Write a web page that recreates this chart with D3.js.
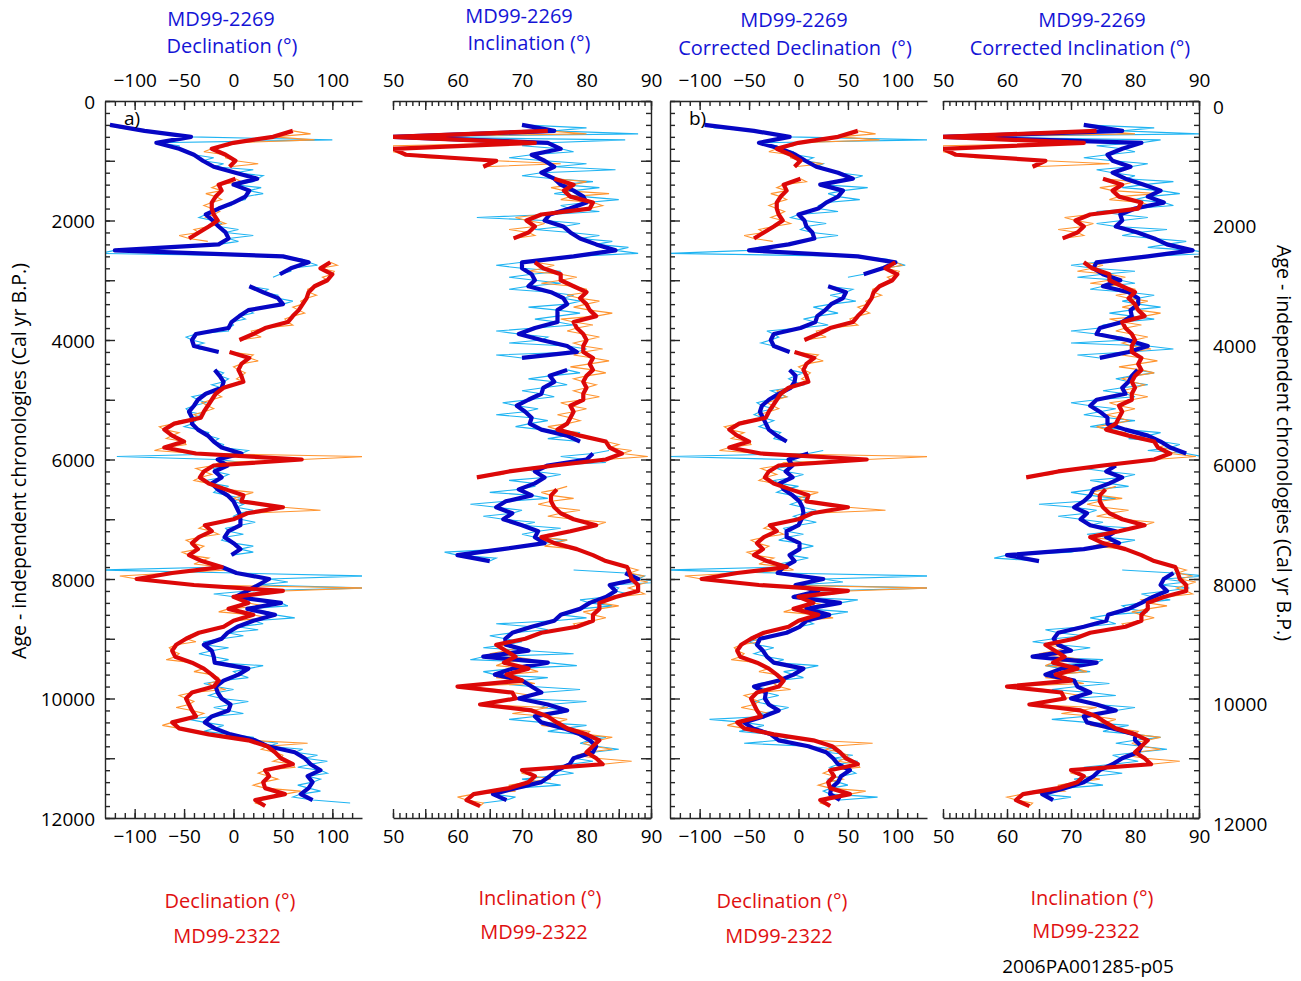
<!DOCTYPE html>
<html>
<head>
<meta charset="utf-8">
<script src="https://cdn.jsdelivr.net/npm/d3@7"></script>
<style>
body { margin: 0; background: #fff; }
svg text { font-family: "Open Sans", sans-serif; }
</style>
</head>
<body>
<svg id="chart" width="1301" height="981"></svg>
<script>

/*
 * Data.
 * Smoothed curves are sampled every 100 yr, the raw (thin) curves add
 * the readings that fall between two smoothed samples.
 */
var ages = [
    400, 500, 600, 700, 800, 900, 1000, 1100, 1200, 1300,
    1400, 1500, 1600, 1700, 1800, 1900, 2000, 2100, 2200, 2300,
    2400, 2500, 2600, 2700, 2800, 2900, 3000, 3100, 3200, 3300,
    3400, 3500, 3600, 3700, 3800, 3900, 4000, 4100, 4200, 4300,
    4400, 4500, 4600, 4700, 4800, 4900, 5000, 5100, 5200, 5300,
    5400, 5500, 5600, 5700, 5800, 5900, 6000, 6100, 6200, 6300,
    6400, 6500, 6600, 6700, 6800, 6900, 7000, 7100, 7200, 7300,
    7400, 7500, 7600, 7700, 7800, 7900, 8000, 8100, 8200, 8300,
    8400, 8500, 8600, 8700, 8800, 8900, 9000, 9100, 9200, 9300,
    9400, 9500, 9600, 9700, 9800, 9900, 10000, 10100, 10200, 10300,
    10400, 10500, 10600, 10700, 10800, 10900, 11000, 11100, 11200, 11300,
    11400, 11500, 11600, 11700, 11800
];

var rawAges = [
    450, 550, 650, 750, 850, 950, 1050, 1150, 1250, 1350,
    1450, 1550, 1650, 1750, 1850, 1950, 2050, 2150, 2250, 2350,
    2450, 2550, 2650, 2750, 2850, 2950, 3050, 3150, 3250, 3350,
    3450, 3550, 3650, 3750, 3850, 3950, 4050, 4150, 4250, 4350,
    4450, 4550, 4650, 4750, 4850, 4950, 5050, 5150, 5250, 5350,
    5450, 5550, 5650, 5750, 5850, 5950, 6050, 6150, 6250, 6350,
    6450, 6550, 6650, 6750, 6850, 6950, 7050, 7150, 7250, 7350,
    7450, 7550, 7650, 7750, 7850, 7950, 8050, 8150, 8250, 8350,
    8450, 8550, 8650, 8750, 8850, 8950, 9050, 9150, 9250, 9350,
    9450, 9550, 9650, 9750, 9850, 9950, 10050, 10150, 10250, 10350,
    10450, 10550, 10650, 10750, 10850, 10950, 11050, 11150, 11250, 11350,
    11450, 11550, 11650, 11750
];

// MD99-2269 declination
var decBlue = [
    -125, -90, -43, -78, -55, -40, -31, -20, 2, 24,
    0, 16, 12, 0, -15, -28, -21, -15, -8, -5,
    -15, -120, 50, 76, 58, 47, null, 16, 30, 45,
    50, 15, 6, -2, -5, -38, -42, -40, -15, null,
    null, -19, -14, -10, -12, -28, -36, -40, -45, -42,
    -42, -36, -26, -20, -12, 8, -16, -6, -19, -12,
    -22, -16, -6, 0, 3, 6, 7, 7, -5, -9,
    0, 7, -2, null, -12, 3, 36, 25, 14, 2,
    48, 14, 42, 20, 4, -6, -12, -30, -22, -20,
    -19, 15, 5, -10, -18, -16, -12, -3, -5, -22,
    -29, -19, -3, 22, 35, 62, 72, 78, 88, 75,
    80, 76, 68, 80, null
];
var decBlueRaw = [
    -115, -70, 100, -55, -50, -20, -10, 20, 30, 20,
    28, 30, 12, -2, -20, -35, -12, 5, 20, 5,
    -60, -135, 70, 85, 58, 40, null, 35, 45, 60,
    35, 20, 12, 0, -5, -48, -30, -35, null, null,
    null, -10, -5, -22, -18, -42, -28, -48, -30, -38,
    -50, -25, -15, -10, 15, -118, 10, -20, -5, -28,
    -5, -20, 8, 10, 20, 0, 22, -8, 10, -12,
    20, 20, null, null, -135, 135, 55, 135, -20, 30,
    55, 35, 62, 30, 25, 10, -30, -5, -35, -5,
    30, 0, 15, -30, 0, -25, 15, -20, 10, -45,
    -10, -30, 20, 45, 70, 85, 95, 65, 95, 88,
    65, 88, 60, 118
];

// MD99-2322 declination
var decRed = [
    null, 60, 40, 0, -22, -8, 2, -4, null, 2,
    -15, -12, -18, -22, -22, -20, -16, -25, -35, -45,
    null, null, null, 98, 88, 100, 95, 82, 76, 74,
    70, 66, 60, 55, 32, 20, 6, null, -4, 16,
    8, 5, 8, 10, -10, -18, -22, -26, -30, -33,
    -60, -70, -62, -50, -70, -38, 69, -20, -30, -34,
    -25, -8, 10, 8, 50, 14, 0, -29, -22, -35,
    -42, -36, -45, -32, -12, -62, -98, -40, 50, 0,
    15, -5, 20, 0, -10, -35, -48, -58, -62, -59,
    -42, -30, -22, -15, -20, -42, -48, -45, -42, -38,
    -62, -55, -25, 15, 34, 42, 48, 60, 32, 36,
    30, 32, 52, 22, 32
];
var decRedRaw = [
    null, 78, 82, -5, -30, -8, 25, null, null, 8,
    -22, -28, -12, -30, -14, -28, -8, -40, -55, -26,
    null, null, null, 105, 102, 90, 88, 75, 84, 68,
    60, 72, 52, 60, 18, 28, null, null, 20, 25,
    0, 12, 3, -5, -22, -12, -32, -20, -40, -55,
    -75, -55, -68, -48, -80, 135, -15, -38, -22, -40,
    -12, 20, 0, 30, 88, 5, -10, -35, -15, -48,
    -30, -52, -25, -40, -5, -115, -75, 135, 35, 8,
    30, -15, 35, -8, -25, -45, -38, -65, -55, -68,
    -35, -40, -15, -25, -8, -55, -40, -58, -30, -50,
    -72, -40, -5, 75, 28, 50, 40, 62, 25, 45,
    20, 68, 30, 22
];

// MD99-2269 inclination
var incBlue = [
    70, 75, 50, 74, 76, 71.5, 73.5, 75, 73, 75,
    76, 78, 79.5, 80, 77.4, 74.3, 73.5, 76.4, 77.5, 79,
    81.5, 84.5, 78, 70, 70, 71.5, 72, 71, 74.5, 76.4,
    77, 75.5, 75.5, 75.5, 72, 69.5, 73, 77, 78.5, 70,
    null, 77, 74.3, 75, 73.3, 73, 71, 69.2, 70.5, 71.5,
    71.2, 73, 77, 79, null, 81, 80, 74, 72, 73.5,
    72, 69.5, 71.5, 67.5, 66, 68.5, 67.1, 70, 72.5, 72,
    73.5, 67, 60, 65, null, 86, 88, 83.6, 84.5, 83,
    80.5, 79, 76, 75, 71.5, 68.5, 67.4, 67.5, 71, 64,
    74, 68.5, 65.8, 70, 71.5, 73, 69.5, 74, 77, 72,
    73, 76.5, 79, 80.5, 81.5, 81, 78, 77.4, 75.5, 74.3,
    73, 69, 65.5, 67.6, null
];
var incBlueRaw = [
    80, 88, 86, 70, 78, 68, 80, 84.5, 70, 81,
    82, 75, 85, 76, 82, 63, 79, 72, 82, 84,
    86.5, 88, 75, 66, 76, 68, 76, 68, 78, 79,
    71, 79, 72, 78, 66, 74, 68, 80, 66, null,
    null, 79, 71, 77, 70, 75, 67, 72.5, 66, 74,
    69, 79, 74, null, 83.5, 76, 83, 70, 76, 68,
    72, 65, 74, 62, 70, 64, 72, 76, 70, 77,
    70, 58, 66, null, 78, 89, 92, 85, 86.5, 79,
    84, 77, 80, 66, 74, 65, 70, 64, 78, 62,
    78.5, 64, 74, 66.5, 79, 71, 80, 73, 76, 68,
    80, 74, 83, 79, 85, 78.5, 81, 74, 78, 70,
    76, 66, 69, 64
];

// MD99-2322 inclination
var incRed = [
    null, 74, 50, 72, 50, 52, 66, 64, null, 75,
    78, 76.5, 77.5, 81, 80.5, 73, 70.7, 72, 71, 68.7,
    null, null, null, 72, 73.3, 76, 76, 78, 80, 79,
    80, 80.5, 81.5, 78, 78.5, 79.5, 80, 79.5, 79.5, 81,
    80.5, 81, 80, 79.5, 80, 79.5, 79.5, 77.5, 78, 77.5,
    77, 75.5, 79, 83, 83.6, 85.5, 83, 75, 68, 63,
    null, 75.4, 74.5, 74.5, 75, 76, 78, 81.5, 77.5, 73,
    75, 78.5, 81, 83, 86.3, 86.7, 87, 88, 88, 84.5,
    82, 82, 81, 81, 78.5, 73, 70.5, 66, 67.5, 69,
    67.2, 71, 67.6, 70, 60, 68.5, 69, 63.5, 71.5, 74,
    75.4, 77, 80, 82, 81, 80, 81.5, 82.5, 70, 72,
    71, 68, 62.5, 61.4, 63.5
];
var incRedRaw = [
    null, 80, 68, 50, 50, 55, 76, null, null, 80,
    74.5, 83.5, 76, 82.5, 75, 69, 73.5, 68, 72, null,
    null, null, null, 75, 71, 78.5, 73, 80, 77, 82,
    78, 84, 76, 81, 77, 82, 78, 82.5, 78, 83.5,
    77.5, 83, 78, 81.5, 78, 82, 76, 80, 75.5, 79,
    74, 78.5, 80, 85, 87, 89.5, 79, 71.5, 67, null,
    77, 73, 78, 72.5, 79, 74, 83, 80, 74, 77,
    73.5, 80, 82.5, 85, 88, 89, 89.5, 86.5, 89, 81,
    85, 79.5, 83, 78, 76, 71.5, 68, 69.5, 65, 71.5,
    66, 72.5, 66, 72, 66, 71.5, 66.5, 74, 68.5, 77,
    73, 80.5, 84, 79.5, 84, 78.5, 87, 75, 70, 74.5,
    68, 69, 60, 64
];

// MD99-2269 corrected declination
var decBlueCorr = [
    -95, -45, -9, -40, -18, -3, 7, 18, 40, 55,
    22, 45, 40, 28, 20, 0, 6, 8, 14, 16,
    -10, -50, 60, 98, 85, 66, null, 30, 48, 45,
    33, 27, 19, 17, 2, -25, -28, -25, -9, null,
    null, -9, -3, -4, -8, -20, -30, -37, -39, -36,
    -33, -30, -22, -12, null, 10, -10, -6, -13, -6,
    -19, -15, -6, 1, 4, 5, 3, 0, -12, -12,
    1, 1, -9, -4, -15, -21, 25, -3, 20, -5,
    42, 8, 31, 8, 1, -12, -39, -42, -36, -32,
    -25, 5, -5, -20, -45, -33, -34, -30, -20, -35,
    -55, -46, -28, -20, 10, 28, 35, 40, 52, 43,
    40, 33, 32, 42, null
];
var decBlueCorrRaw = [
    -85, -30, 130, -22, -5, 15, 25, 30, 65, 40,
    70, 30, 62, 20, 40, -8, 28, 2, 40, 5,
    -40, -130, 90, 108, 78, 50, null, 55, 32, 58,
    15, 40, 5, 30, -32, -20, -38, -15, null, null,
    null, 5, -10, 5, -28, -12, -42, -25, -45, -25,
    -40, -18, -25, null, 25, -132, 5, -22, 5, -25,
    0, -22, 10, -8, 18, -5, 18, -15, 5, -20,
    15, -5, 10, -20, -135, 135, 45, 135, 10, 60,
    15, 50, 20, 15, -5, -25, -50, -25, -45, -15,
    20, -15, 5, -40, -28, -20, -45, -10, -38, -90,
    -35, -60, -5, -55, 40, 55, 60, 32, 58, 30,
    50, 25, 80, null
];

// MD99-2269 corrected inclination
var incBlueCorr = [
    72, 78, 50, 81, 78, 75.7, 76.5, 79.3, 76.5, 78.5,
    81.4, 84, 82, 84.5, 80, 77.7, 78, 77, 80.4, 83,
    85, 89, 82, 74, 73.5, 75, 77.7, 75, 79, 80.5,
    80.5, 79.3, 79.5, 78, 74.5, 74, 78.8, 82, 79, 74.5,
    null, 80.4, 79.5, 79, 78, 78.5, 74, 73, 74.5, 75.7,
    75.7, 78.5, 82, 84, 85.5, 88, null, 77, 75.5, 78,
    76, 73.5, 73, 72, 70.5, 72.5, 71.5, 73, 77, 75.5,
    77.5, 72, 60, 65, null, 86, 84.5, 84, 85, 82.8,
    81, 79, 75.8, 75.5, 72, 68, 67.3, 68, 70, 64,
    74, 68.5, 66, 70.5, 71, 73, 70, 74, 77, 72,
    72.5, 76.5, 80, 80, 81, 80.5, 78, 76.5, 74.5, 73.5,
    72, 69, 65.5, 67.2, null
];
var incBlueCorrRaw = [
    83, 90, 84, 74, 80, 72, 82, 74, 80, 86,
    78, 87, 80, 86, 74, 82, 74, 85, 78, 88,
    82, 92, 78, 70, 80, 71, 80, 73, 83, 78,
    84, 76, 83, 75, 70, 78, 70, 86, 71, null,
    null, 83, 77, 82, 75, 80, 70, 77, 72, 80,
    73, 84, 79, 87, 82, 90.5, null, 72, 80, 73,
    79, 70, 77, 65, 74, 68, 75, 80, 72.5, 80,
    74, 70, 58, null, 78, 91, 88, 88.5, 81, 85.5,
    78, 82, 73, 77, 66, 72, 64, 73, 66, 75,
    66, 73, 69, 76, 67, 77, 72, 80, 74, 67,
    79, 75, 84, 77, 85, 76.5, 80.5, 72, 78, 70.5,
    75, 64, 70, null
];

// tick labels
var decTickLabels = [-100, -50, 0, 50, 100];
var incTickLabels = [50, 60, 70, 80, 90];
var ageTickLabels = [0, 2000, 4000, 6000, 8000, 10000, 12000];

/*
 * Layout of the four panels.
 */
var BLUE_TEXT = "#1414d6";
var RED_TEXT = "#e01010";

var panels = [
    {x0: 105, x1: 362, kind: "dec", blue: decBlue, blueRaw: decBlueRaw,
     red: decRed, redRaw: decRedRaw, yside: "left", ylabels: true, tag: "a)",
     top: [["MD99-2269", 221, 26], ["Declination (°)", 232, 53]],
     bottom: [["Declination (°)", 230, 908], ["MD99-2322", 227, 943]]},
    {x0: 393, x1: 651, kind: "inc", blue: incBlue, blueRaw: incBlueRaw,
     red: incRed, redRaw: incRedRaw, yside: "right", ylabels: false,
     top: [["MD99-2269", 519, 23], ["Inclination (°)", 529, 50]],
     bottom: [["Inclination (°)", 540, 905], ["MD99-2322", 534, 939]]},
    {x0: 670, x1: 927, kind: "dec", blue: decBlueCorr, blueRaw: decBlueCorrRaw,
     red: decRed, redRaw: decRedRaw, yside: "left", ylabels: false, tag: "b)",
     top: [["MD99-2269", 794, 27], ["Corrected Declination  (°)", 795, 55]],
     bottom: [["Declination (°)", 782, 908], ["MD99-2322", 779, 943]]},
    {x0: 943, x1: 1199, kind: "inc", blue: incBlueCorr, blueRaw: incBlueCorrRaw,
     red: incRed, redRaw: incRedRaw, yside: "right", ylabels: true,
     top: [["MD99-2269", 1092, 27], ["Corrected Inclination (°)", 1080, 55]],
     bottom: [["Inclination (°)", 1092, 905], ["MD99-2322", 1086, 938]]}
];

var svg = d3.select("#chart");
var y = d3.scaleLinear().domain([0, 12000]).range([101, 818]);

var AXIS_COLOR = "#262626";
var FONT = "Open Sans, sans-serif";

function styleAxis(g) {
    g.attr("font-size", 19)
     .attr("font-family", FONT)
     .attr("color", AXIS_COLOR);
    g.selectAll("line, path").attr("stroke-width", 1.4);
    g.selectAll("text").attr("fill", "#000");
}

/*
 * Horizontal axis, ticks pointing into the panel.
 */
function drawXAxis(x, isTop, minor, major, labels) {
    var make = isTop ? d3.axisTop : d3.axisBottom;
    var g = svg.append("g")
        .attr("transform", "translate(0," + (isTop ? y.range()[0] : y.range()[1]) + ")");

    g.append("g").call(make(x).tickValues(minor).tickSize(-5).tickSizeOuter(0).tickFormat(""));
    g.append("g").call(make(x).tickValues(major).tickSize(-9).tickSizeOuter(0).tickFormat(""))
        .select(".domain").remove();

    var lab = g.append("g").call(make(x).tickValues(labels).tickSize(0).tickPadding(isTop ? 14 : 12));
    lab.select(".domain").remove();
    lab.selectAll("line").remove();

    g.selectAll("g").call(styleAxis);
}

/*
 * Vertical age axis, ticks pointing into the panel.
 */
function drawYAxis(xpos, side, withLabels) {
    var make = side == "left" ? d3.axisLeft : d3.axisRight;
    var g = svg.append("g").attr("transform", "translate(" + xpos + ",0)");

    g.append("g").call(make(y).tickValues(d3.range(0, 12001, 200)).tickSize(-5).tickSizeOuter(0).tickFormat(""));
    g.append("g").call(make(y).tickValues(d3.range(0, 12001, 1000)).tickSize(-10).tickSizeOuter(0).tickFormat(""))
        .select(".domain").remove();

    if (withLabels) {
        var lab = g.append("g").call(make(y).tickValues(ageTickLabels).tickSize(0)
            .tickPadding(side == "left" ? 10 : 14).tickFormat(d3.format("d")));
        lab.select(".domain").remove();
        lab.selectAll("line").remove();
        lab.selectAll("text").attr("y", side == "left" ? 1 : 6);
    }
    g.selectAll("g").call(styleAxis);
}

/*
 * Merge smoothed samples with the raw readings in between.
 */
function rawSeries(smooth, raw) {
    var pts = [];
    for (var i = 0; i < ages.length; i++) {
        pts.push({age: ages[i], v: smooth[i]});
        if (i < rawAges.length) {
            pts.push({age: rawAges[i], v: raw[i]});
        }
    }
    return pts;
}

function smoothSeries(smooth) {
    return ages.map(function(a, i) {
        return {age: a, v: smooth[i]};
    });
}

panels.forEach(function(p, idx) {
    var domain = p.kind == "dec" ? [-130, 130] : [50, 90];
    var x = d3.scaleLinear().domain(domain).range([p.x0, p.x1]);

    // clip the curves to the plot area
    var clipId = "clip" + idx;
    svg.append("clipPath").attr("id", clipId)
        .append("rect")
        .attr("x", p.x0).attr("y", y.range()[0])
        .attr("width", p.x1 - p.x0).attr("height", y.range()[1] - y.range()[0]);

    var line = d3.line()
        .defined(function(d) { return d.v != null; })
        .x(function(d) { return x(d.v); })
        .y(function(d) { return y(d.age); });

    var plot = svg.append("g").attr("clip-path", "url(#" + clipId + ")");

    plot.append("path").datum(rawSeries(p.blue, p.blueRaw))
        .attr("d", line).attr("fill", "none")
        .attr("stroke", "#1fb4f2").attr("stroke-width", 1.1);
    plot.append("path").datum(rawSeries(p.red, p.redRaw))
        .attr("d", line).attr("fill", "none")
        .attr("stroke", "#ff9530").attr("stroke-width", 1.1);
    plot.append("path").datum(smoothSeries(p.blue))
        .attr("d", line).attr("fill", "none")
        .attr("stroke", "#0606c4").attr("stroke-width", 4.2)
        .attr("stroke-linejoin", "round");
    plot.append("path").datum(smoothSeries(p.red))
        .attr("d", line).attr("fill", "none")
        .attr("stroke", "#dc0808").attr("stroke-width", 4.2)
        .attr("stroke-linejoin", "round");

    // axes
    var minor, major, labels;
    if (p.kind == "dec") {
        minor = d3.range(-120, 121, 10);
        major = d3.range(-100, 101, 50);
        labels = decTickLabels;
    } else {
        minor = d3.range(50, 91, 1);
        major = d3.range(50, 91, 5);
        labels = incTickLabels;
    }
    drawXAxis(x, true, minor, major, labels);
    drawXAxis(x, false, minor, major, labels);
    drawYAxis(p.yside == "left" ? p.x0 : p.x1, p.yside, p.ylabels);

    // titles
    p.top.forEach(function(t) {
        svg.append("text")
            .attr("x", t[1]).attr("y", t[2])
            .attr("text-anchor", "middle")
            .attr("font-size", 20)
            .attr("fill", BLUE_TEXT)
            .style("white-space", "pre")
            .text(t[0]);
    });
    p.bottom.forEach(function(t) {
        svg.append("text")
            .attr("x", t[1]).attr("y", t[2])
            .attr("text-anchor", "middle")
            .attr("font-size", 20)
            .attr("fill", RED_TEXT)
            .text(t[0]);
    });

    if (p.tag) {
        svg.append("text")
            .attr("x", p.x0 + 19).attr("y", 125)
            .attr("font-size", 19)
            .text(p.tag);
    }
});

// vertical axis titles
svg.append("text")
    .attr("transform", "translate(26,461) rotate(-90)")
    .attr("text-anchor", "middle")
    .attr("font-size", 19.5)
    .text("Age - independent chronologies (Cal yr B.P.)");

svg.append("text")
    .attr("transform", "translate(1277,443) rotate(90)")
    .attr("text-anchor", "middle")
    .attr("font-size", 19.5)
    .text("Age - independent chronologies (Cal yr B.P.)");

svg.append("text")
    .attr("x", 1088).attr("y", 973)
    .attr("text-anchor", "middle")
    .attr("font-size", 19)
    .text("2006PA001285-p05");

</script>
</body>
</html>
